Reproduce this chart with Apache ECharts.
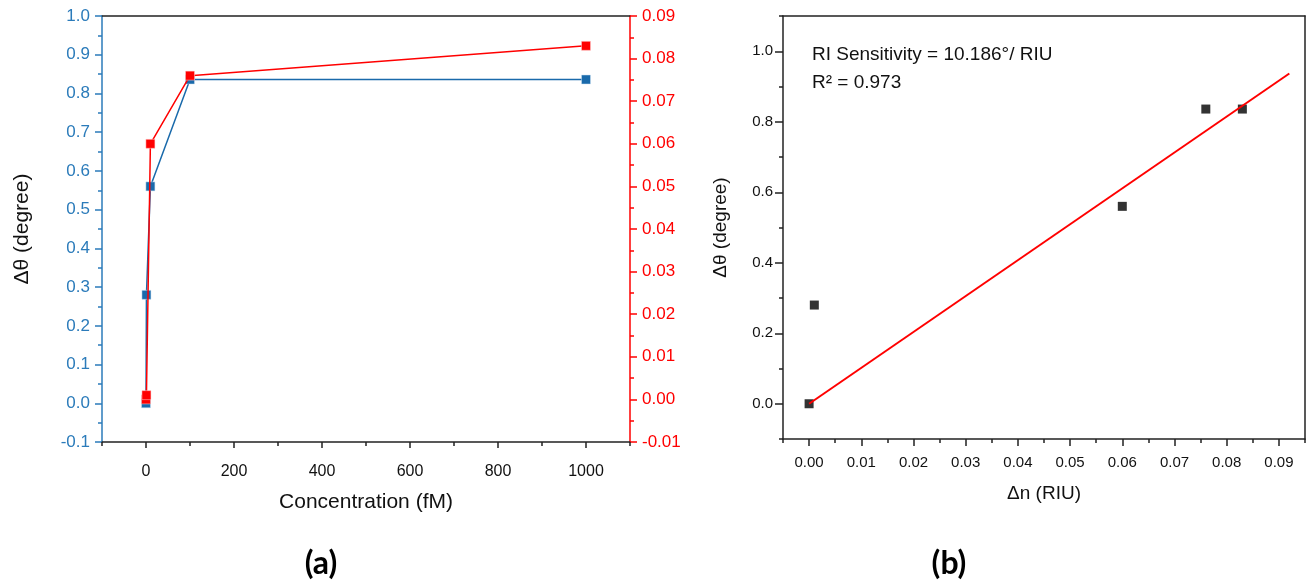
<!DOCTYPE html>
<html>
<head>
<meta charset="utf-8">
<script src="https://cdn.jsdelivr.net/npm/echarts@6/dist/echarts.min.js"></script>
<style>
html,body{margin:0;padding:0;background:#fff;}
#c{width:1307px;height:587px;}
</style>
</head>
<body>
<div id="c"></div>
<script>
// ---- data ----
const conc = [0, 1, 10, 100, 1000];            // Concentration (fM)
const dTheta = [0, 0.28, 0.56, 0.836, 0.836];  // Δθ (degree)
const dn = [0, 0.001, 0.06, 0.076, 0.083];     // Δn (RIU)
const fitDn = [0, 0.092];                      // linear fit, x
const fitTheta = [0, 0.937];                   // linear fit, y
// tick labels
const xTicksA = [0, 200, 400, 600, 800, 1000];
const xMinorA = [-100, 100, 300, 500, 700, 900, 1100];
const xTicksB = [0, 0.01, 0.02, 0.03, 0.04, 0.05, 0.06, 0.07, 0.08, 0.09];
const xMinorB = [-0.005, 0.005, 0.015, 0.025, 0.035, 0.045, 0.055, 0.065, 0.075, 0.085, 0.095];
const yTicksB = [0, 0.2, 0.4, 0.6, 0.8, 1.0];
const yMinorB = [-0.1, 0.1, 0.3, 0.5, 0.7, 0.9, 1.1];

const FONT = 'Liberation Sans';
const BLUE = '#1a6aab';
const BLUE_AX = '#2b7bba';
const RED = '#ff0000';

const zip = (a, b) => a.map((v, i) => [v, b[i]]);

const chart = echarts.init(document.getElementById('c'), null, {renderer: 'canvas'});

const hiddenAxisBits = {
  axisLine: {show: false, onZero: false}, axisLabel: {show: false}, splitLine: {show: false}
};

const option = {
  animation: false,
  backgroundColor: '#fff',
  grid: [
    {left: 102, top: 16, width: 528, height: 426},
    {left: 783, top: 16, width: 522, height: 423}
  ],
  xAxis: [
    { // 0: chart a bottom
      gridIndex: 0, type: 'value', position: 'bottom', min: -100, max: 1100,
      axisLine: {show: true, onZero: false, lineStyle: {color: '#222', width: 1.5}},
      axisTick: {show: true, length: 6, customValues: xTicksA, lineStyle: {color: '#222', width: 1.5}},
      axisLabel: {customValues: xTicksA, color: '#111', fontFamily: FONT, fontSize: 16, margin: 22,
        formatter: v => String(v)},
      splitLine: {show: false},
      name: 'Concentration (fM)', nameLocation: 'middle', nameGap: 50,
      nameTextStyle: {color: '#111', fontFamily: FONT, fontSize: 21}
    },
    { // 1: chart a bottom minor ticks
      gridIndex: 0, type: 'value', position: 'bottom', min: -100, max: 1100,
      axisTick: {show: true, length: 4, customValues: xMinorA, lineStyle: {color: '#222', width: 1.5}},
      ...hiddenAxisBits
    },
    { // 2: chart a top border
      gridIndex: 0, type: 'value', position: 'top', min: -100, max: 1100,
      axisLine: {show: true, onZero: false, lineStyle: {color: '#222', width: 1.5}},
      axisTick: {show: false}, axisLabel: {show: false}, splitLine: {show: false}
    },
    { // 3: chart b bottom
      gridIndex: 1, type: 'value', position: 'bottom', min: -0.005, max: 0.095,
      axisLine: {show: true, onZero: false, lineStyle: {color: '#222', width: 1.5}},
      axisTick: {show: true, length: 7, customValues: xTicksB, lineStyle: {color: '#222', width: 1.5}},
      axisLabel: {customValues: xTicksB, color: '#111', fontFamily: FONT, fontSize: 15, margin: 16,
        formatter: v => v.toFixed(2)},
      splitLine: {show: false},
      name: 'Δn (RIU)', nameLocation: 'middle', nameGap: 45,
      nameTextStyle: {color: '#111', fontFamily: FONT, fontSize: 19}
    },
    { // 4: chart b bottom minor ticks
      gridIndex: 1, type: 'value', position: 'bottom', min: -0.005, max: 0.095,
      axisTick: {show: true, length: 4, customValues: xMinorB, lineStyle: {color: '#222', width: 1.5}},
      ...hiddenAxisBits
    },
    { // 5: chart b top border
      gridIndex: 1, type: 'value', position: 'top', min: -0.005, max: 0.095,
      axisLine: {show: true, onZero: false, lineStyle: {color: '#222', width: 1.5}},
      axisTick: {show: false}, axisLabel: {show: false}, splitLine: {show: false}
    }
  ],
  yAxis: [
    { // 0: chart a left (blue)
      gridIndex: 0, type: 'value', position: 'left', min: -0.1, max: 1.0, interval: 0.1,
      axisLine: {show: true, onZero: false, lineStyle: {color: BLUE_AX, width: 1.5}},
      axisTick: {show: true, length: 7, lineStyle: {color: BLUE_AX, width: 1.5}},
      minorTick: {show: true, splitNumber: 2, length: 4, lineStyle: {color: BLUE_AX, width: 1.5}},
      axisLabel: {color: BLUE_AX, fontFamily: FONT, fontSize: 17, margin: 12, formatter: v => v.toFixed(1)},
      splitLine: {show: false},
      name: 'Δθ (degree)', nameLocation: 'middle', nameGap: 69, nameRotate: 90,
      nameTextStyle: {color: '#111', fontFamily: FONT, fontSize: 21}
    },
    { // 1: chart a right (red)
      gridIndex: 0, type: 'value', position: 'right', min: -0.01, max: 0.09, interval: 0.01,
      axisLine: {show: true, onZero: false, lineStyle: {color: RED, width: 1.5}},
      axisTick: {show: true, length: 7, lineStyle: {color: RED, width: 1.5}},
      minorTick: {show: true, splitNumber: 2, length: 4, lineStyle: {color: RED, width: 1.5}},
      axisLabel: {color: RED, fontFamily: FONT, fontSize: 17, margin: 12, formatter: v => v.toFixed(2)},
      splitLine: {show: false}
    },
    { // 2: chart b left
      gridIndex: 1, type: 'value', position: 'left', min: -0.1, max: 1.1,
      axisLine: {show: true, onZero: false, lineStyle: {color: '#222', width: 1.5}},
      axisTick: {show: true, length: 8, customValues: yTicksB, lineStyle: {color: '#222', width: 1.5}},
      axisLabel: {customValues: yTicksB, color: '#111', fontFamily: FONT, fontSize: 15, margin: 10,
        formatter: v => v.toFixed(1)},
      splitLine: {show: false},
      name: 'Δθ (degree)', nameLocation: 'middle', nameGap: 53, nameRotate: 90,
      nameTextStyle: {color: '#111', fontFamily: FONT, fontSize: 19}
    },
    { // 3: chart b left minor ticks
      gridIndex: 1, type: 'value', position: 'left', min: -0.1, max: 1.1,
      axisTick: {show: true, length: 4, customValues: yMinorB, lineStyle: {color: '#222', width: 1.5}},
      ...hiddenAxisBits
    },
    { // 4: chart b right border
      gridIndex: 1, type: 'value', position: 'right', min: -0.1, max: 1.1,
      axisLine: {show: true, onZero: false, lineStyle: {color: '#222', width: 1.5}},
      axisTick: {show: false}, axisLabel: {show: false}, splitLine: {show: false}
    }
  ],
  series: [
    {
      type: 'line', xAxisIndex: 0, yAxisIndex: 0, data: zip(conc, dTheta),
      symbol: 'rect', symbolSize: 9, showSymbol: true,
      lineStyle: {color: BLUE, width: 1.5}, itemStyle: {color: BLUE, borderColor: '#cfe3f3', borderWidth: 0.5}, z: 2
    },
    {
      type: 'line', xAxisIndex: 0, yAxisIndex: 1, data: zip(conc, dn),
      symbol: 'rect', symbolSize: 9, showSymbol: true,
      lineStyle: {color: RED, width: 1.5}, itemStyle: {color: RED, borderColor: '#ffd0d0', borderWidth: 0.5}, z: 3
    },
    {
      type: 'scatter', xAxisIndex: 3, yAxisIndex: 2, data: zip(dn, dTheta),
      symbol: 'rect', symbolSize: 9, itemStyle: {color: '#000'}, z: 2
    },
    {
      type: 'line', xAxisIndex: 3, yAxisIndex: 2, data: zip(fitDn, fitTheta),
      showSymbol: false, symbol: 'none', lineStyle: {color: RED, width: 2}, z: 3
    }
  ],
  graphic: [
    {type: 'text', left: 812, top: 45, style: {text: 'RI Sensitivity = 10.186°/ RIU', fontFamily: FONT, fontSize: 19, fill: '#111'}},
    {type: 'text', left: 812, top: 73, style: {text: 'R² = 0.973', fontFamily: FONT, fontSize: 19, fill: '#111'}},
    {type: 'text', x: 321, y: 564, style: {text: '(a)', fontFamily: 'Lato', fontWeight: 'bold', fontSize: 32, fill: '#000', align: 'center', verticalAlign: 'middle'}},
    {type: 'text', x: 949, y: 564, style: {text: '(b)', fontFamily: 'Lato', fontWeight: 'bold', fontSize: 32, fill: '#000', align: 'center', verticalAlign: 'middle'}}
  ]
};
chart.setOption(option);
</script>
</body>
</html>
